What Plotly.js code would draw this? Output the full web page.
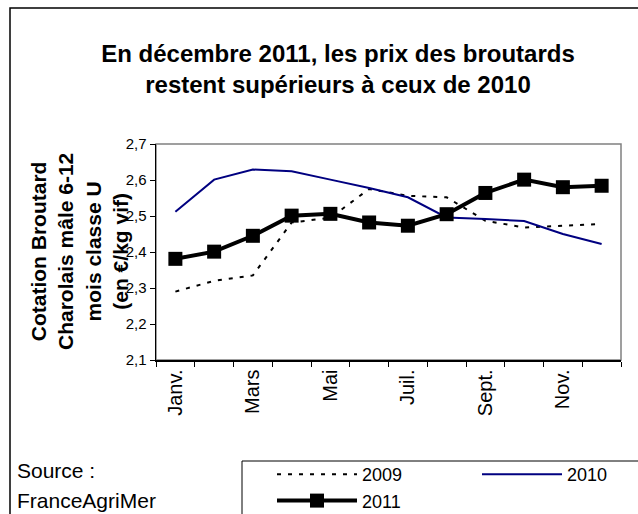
<!DOCTYPE html>
<html>
<head>
<meta charset="utf-8">
<script src="https://cdn.plot.ly/plotly-3.0.1.min.js"></script>
<style>html,body{margin:0;padding:0;background:#fff;}#chart{width:638px;height:514px;}</style>
</head>
<body>
<div id="chart"></div>
<script>
// Data
const months = ['Janv.', 'Févr.', 'Mars', 'Avr.', 'Mai', 'Juin', 'Juil.', 'Août', 'Sept.', 'Oct.', 'Nov.', 'Déc.'];
const tickLabels = ['Janv.', '', 'Mars', '', 'Mai', '', 'Juil.', '', 'Sept.', '', 'Nov.', ''];
const values2009 = [2.29, 2.32, 2.335, 2.482, 2.495, 2.575, 2.556, 2.552, 2.487, 2.468, 2.473, 2.478];
const values2010 = [2.512, 2.601, 2.629, 2.624, 2.601, 2.578, 2.552, 2.496, 2.492, 2.486, 2.45, 2.422];
const values2011 = [2.381, 2.401, 2.445, 2.501, 2.506, 2.482, 2.473, 2.505, 2.564, 2.601, 2.580, 2.584];
const yTicks = [2.1, 2.2, 2.3, 2.4, 2.5, 2.6, 2.7];

const FONT = 'Liberation Sans, Arial, sans-serif';
const W = 638, H = 514;
const M = {l: 156, r: 17, t: 144, b: 154, autoexpand: false};
const PW = W - M.l - M.r, PH = H - M.t - M.b;
const px = x => (x - M.l) / PW;          // pixel -> paper x
const py = y => (H - M.b - y) / PH;      // pixel -> paper y

const traces = [
  {x: months, y: values2009, name: '2009', type: 'scatter', mode: 'lines', legend: 'legend',
   line: {color: '#000000', width: 2, dash: '4px,7px'}},
  {x: months, y: values2010, name: '2010', type: 'scatter', mode: 'lines', legend: 'legend2',
   line: {color: '#000080', width: 2}},
  {x: months, y: values2011, name: '2011', type: 'scatter', mode: 'lines+markers', legend: 'legend',
   line: {color: '#000000', width: 4},
   marker: {symbol: 'square', size: 14, color: '#000000'}}
];

const legendCommon = {
  orientation: 'v', xanchor: 'left', yanchor: 'top',
  bgcolor: 'rgba(0,0,0,0)', borderwidth: 0,
  font: {family: FONT, size: 18, color: '#000000'},
  itemwidth: 80, tracegroupgap: 0, traceorder: 'normal'
};

const layout = {
  width: W, height: H,
  margin: M,
  paper_bgcolor: '#ffffff', plot_bgcolor: '#ffffff',
  separators: ', ',
  font: {family: FONT, color: '#000000'},
  showlegend: true,
  title: {
    text: 'En décembre 2011, les prix des broutards<br>restent supérieurs à ceux de 2010',
    font: {family: FONT, size: 24, weight: 'bold', color: '#000000'},
    x: 338 / W, xanchor: 'center', xref: 'container',
    y: 1 - 62 / H, yanchor: 'middle', yref: 'container'
  },
  xaxis: {
    type: 'category', range: [-0.5, 11.5],
    tickvals: months, ticktext: tickLabels,
    tickson: 'boundaries', ticks: 'outside', ticklen: 5, tickcolor: '#000000',
    tickangle: -90, tickfont: {family: FONT, size: 20, color: '#000000'},
    showline: true, linecolor: '#000000', linewidth: 1.5,
    showgrid: false, zeroline: false, fixedrange: true, automargin: false
  },
  yaxis: {
    range: [2.1, 2.7], tickvals: yTicks, tickformat: '.1f',
    ticks: 'outside', ticklen: 5, tickcolor: '#000000',
    tickfont: {family: FONT, size: 15, color: '#000000'},
    showline: true, linecolor: '#000000', linewidth: 1.5,
    showgrid: false, zeroline: false, fixedrange: true, automargin: false
  },
  legend: Object.assign({}, legendCommon, {x: px(272), y: py(456)}),
  legend2: Object.assign({}, legendCommon, {x: px(477), y: py(456)}),
  shapes: [
    // outer chart border
    {type: 'rect', xref: 'paper', yref: 'paper', x0: px(10), x1: px(660), y0: py(8), y1: py(540),
     line: {color: '#000000', width: 1.5}, fillcolor: 'rgba(0,0,0,0)', layer: 'below'},
    // plot area border (grey)
    {type: 'rect', xref: 'paper', yref: 'paper', x0: 0, x1: 1, y0: 0, y1: 1,
     line: {color: '#808080', width: 1.5}, fillcolor: 'rgba(0,0,0,0)', layer: 'below'},
    // legend box
    {type: 'rect', xref: 'paper', yref: 'paper', x0: px(242), x1: px(660), y0: py(461), y1: py(540),
     line: {color: '#000000', width: 1}, fillcolor: 'rgba(0,0,0,0)', layer: 'below'}
  ],
  annotations: [
    {text: 'Cotation Broutard<br>Charolais mâle 6-12<br>mois classe U<br>(en €/kg vif)',
     xref: 'paper', yref: 'paper', x: px(79), y: 0.5, xanchor: 'center', yanchor: 'middle',
     textangle: -90, showarrow: false,
     font: {family: FONT, size: 21, weight: 'bold', color: '#000000'}},
    {text: 'Source :', xref: 'paper', yref: 'paper', x: px(15), y: py(470), xanchor: 'left', yanchor: 'middle',
     showarrow: false, font: {family: FONT, size: 21, color: '#000000'}},
    {text: 'FranceAgriMer', xref: 'paper', yref: 'paper', x: px(15), y: py(500), xanchor: 'left', yanchor: 'middle',
     showarrow: false, font: {family: FONT, size: 21, color: '#000000'}}
  ]
};

Plotly.newPlot('chart', traces, layout, {displayModeBar: false, staticPlot: true});
</script>
</body>
</html>
